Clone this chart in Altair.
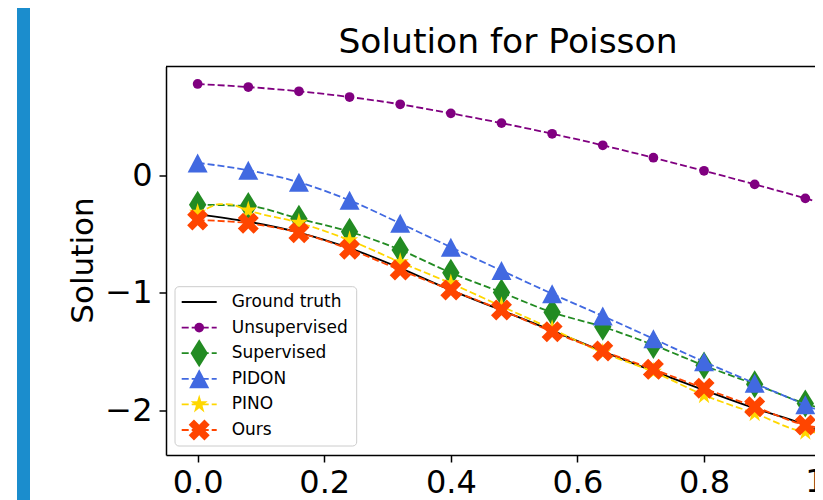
import math
import altair as alt
import pandas as pd

# ---------------- data ----------------
x_mark = [0.00, 0.08, 0.16, 0.24, 0.32, 0.40, 0.48, 0.56, 0.64, 0.72, 0.80, 0.88, 0.96]
x_line = x_mark + [1.00]

ground_truth = [-0.332, -0.395, -0.487, -0.620, -0.790, -0.978, -1.150, -1.322, -1.500, -1.668, -1.830, -1.985, -2.127, -2.232]
unsupervised = [0.778, 0.752, 0.716, 0.667, 0.605, 0.528, 0.445, 0.354, 0.256, 0.150, 0.039, -0.077, -0.196, -0.262]
supervised = [-0.250, -0.262, -0.370, -0.480, -0.635, -0.830, -0.997, -1.167, -1.290, -1.445, -1.620, -1.779, -1.944, -2.010]
pidon = [0.106, 0.043, -0.059, -0.213, -0.409, -0.612, -0.811, -1.009, -1.198, -1.392, -1.588, -1.771, -1.955, -2.050]
ours = [-0.381, -0.409, -0.489, -0.630, -0.807, -0.977, -1.147, -1.332, -1.497, -1.652, -1.814, -1.971, -2.127, -2.165]

pino_x = [0.00, 0.016, 0.034, 0.052, 0.08, 0.16, 0.24, 0.32, 0.40, 0.48, 0.56, 0.64, 0.72, 0.80, 0.88, 0.96, 0.975, 0.99, 1.00]
pino_y = [-0.320, -0.280, -0.245, -0.248, -0.300, -0.404, -0.553, -0.740, -0.920, -1.115, -1.310, -1.510, -1.673, -1.872, -2.027, -2.184, -2.190, -2.110, -2.050]

series_names = ["Ground truth", "Unsupervised", "Supervised", "PIDON", "PINO", "Ours"]
series_colors = ["black", "purple", "forestgreen", "royalblue", "gold", "orangered"]

x_ticks = [0.0, 0.2, 0.4, 0.6, 0.8]
y_ticks = [-2, -1, 0]

title_text = "Solution for Poisson"
y_title = "Solution"

# ---------------- marker shapes ----------------
DIAMOND = "M0,-1L0.62,0L0,1L-0.62,0Z"
TRIANGLE = "M0,-0.95L1,0.95L-1,0.95Z"
XSHAPE = "M-0.5,-1L0,-0.5L0.5,-1L1,-0.5L0.5,0L1,0.5L0.5,1L0,0.5L-0.5,1L-1,0.5L-0.5,0L-1,-0.5Z"
_pts = []
for k in range(10):
    r = 1.0 if k % 2 == 0 else 0.381966
    a = math.pi / 2 + k * math.pi / 5
    _pts.append((r * math.cos(a) * 0.9, -r * math.sin(a)))
STAR = "M" + "L".join(f"{px:.4f},{py:.4f}" for px, py in _pts) + "Z"

marker_spec = {
    "Ground truth": None,
    "Unsupervised": ("circle", 95),
    "Supervised": (DIAMOND, 784),
    "PIDON": (TRIANGLE, 400),
    "PINO": (STAR, 396),
    "Ours": (XSHAPE, 441),
}

W = 649
H = 388.5
FONT = "DejaVu Sans"

xs = alt.Scale(domain=[-0.05, 0.9753], nice=False, zero=False)
ys = alt.Scale(domain=[-2.382, 0.927], nice=False, zero=False)

x_axis = alt.Axis(values=x_ticks, format=".1f", title=None, grid=False,
                  labelFontSize=32, labelFont=FONT, labelColor="black",
                  tickSize=7, tickWidth=1.5, tickColor="black",
                  domainColor="black", domainWidth=1.5, labelPadding=5,
                  labelFlush=False, labelOverlap=False)
y_axis = alt.Axis(values=y_ticks, format="d", title=None, grid=False,
                  labelFontSize=32, labelFont=FONT, labelColor="black",
                  tickSize=7, tickWidth=1.5, tickColor="black",
                  domainColor="black", domainWidth=1.5, labelPadding=7,
                  labelOverlap=False)

X = alt.X("x:Q", scale=xs, axis=x_axis)
Y = alt.Y("y:Q", scale=ys, axis=y_axis)

line_data = {
    "Ground truth": (x_line, ground_truth),
    "Unsupervised": (x_line, unsupervised),
    "Supervised": (x_line, supervised),
    "PIDON": (x_line, pidon),
    "PINO": (pino_x, pino_y),
    "Ours": (x_line, ours),
}

layers = []
one = pd.DataFrame({"a": [0]})

# blue side bar
layers.append(alt.Chart(one).mark_rect(color="#1b8dcd").encode(
    x=alt.value(-149), x2=alt.value(-136), y=alt.value(-60), y2=alt.value(440)))

for name, col in zip(series_names, series_colors):
    lx, ly = line_data[name]
    dfl = pd.DataFrame({"x": lx, "y": ly})
    if name == "Ground truth":
        ln = alt.Chart(dfl).mark_line(color=col, strokeWidth=1.8, interpolate="monotone")
    else:
        ln = alt.Chart(dfl).mark_line(color=col, strokeWidth=1.8, strokeDash=[7, 3],
                                      interpolate="monotone")
    layers.append(ln.encode(x=X, y=Y))
    spec = marker_spec[name]
    if spec is not None:
        dfm = dfl[dfl["x"].round(3).isin([round(v, 3) for v in x_mark])]
        layers.append(alt.Chart(dfm).mark_point(
            filled=True, shape=spec[0], size=spec[1], color=col, opacity=1, strokeWidth=0
        ).encode(x=X, y=Y))

# top spine
layers.append(alt.Chart(one).mark_rule(color="black", strokeWidth=1.5).encode(
    x=alt.value(0), x2=alt.value(W), y=alt.value(0)))

# clipped "1.0" tick label
layers.append(alt.Chart(one).mark_text(fontSize=32, font=FONT, baseline="top", align="center",
                                       color="black").encode(
    x=alt.datum(1.0), y=alt.value(H + 12), text=alt.value("1.0")))

# title
layers.append(alt.Chart(pd.DataFrame({"t": [title_text]})).mark_text(
    fontSize=34.5, font=FONT, baseline="alphabetic", align="center", color="black").encode(
    x=alt.value(342), y=alt.value(-13.7), text="t:N"))

# y title
layers.append(alt.Chart(pd.DataFrame({"t": [y_title]})).mark_text(
    fontSize=31, font=FONT, baseline="alphabetic", align="center", angle=270, color="black").encode(
    x=alt.value(-72.7), y=alt.value(194), text="t:N"))

# legend
layers.append(alt.Chart(one).mark_rect(fill="white", fillOpacity=0.8, stroke="#cccccc",
                                       strokeWidth=1, cornerRadius=4).encode(
    x=alt.value(9), x2=alt.value(190.7), y=alt.value(220.2), y2=alt.value(379.5)))
for i, (name, col) in enumerate(zip(series_names, series_colors)):
    yy = 235.5 + 25.6 * i
    if name == "Ground truth":
        rl = alt.Chart(one).mark_rule(color=col, strokeWidth=1.8)
    else:
        rl = alt.Chart(one).mark_rule(color=col, strokeWidth=1.8, strokeDash=[7, 3])
    layers.append(rl.encode(x=alt.value(15.7), x2=alt.value(50.7), y=alt.value(yy)))
    spec = marker_spec[name]
    if spec is not None:
        layers.append(alt.Chart(one).mark_point(
            filled=True, shape=spec[0], size=spec[1], color=col, opacity=1, strokeWidth=0
        ).encode(x=alt.value(33.2), y=alt.value(yy)))
    layers.append(alt.Chart(pd.DataFrame({"t": [name]})).mark_text(
        fontSize=17, font=FONT, baseline="middle", align="left", color="black").encode(
        x=alt.value(65.7), y=alt.value(yy), text="t:N"))

chart = alt.layer(*layers).properties(
    width=W, height=H,
    autosize=alt.AutoSizeParams(type="none"),
    padding={"left": 158, "top": 58.5, "right": 0, "bottom": 45},
).configure_view(stroke=None)

chart.save("out.html", embed_options={"renderer": "svg", "actions": False})
